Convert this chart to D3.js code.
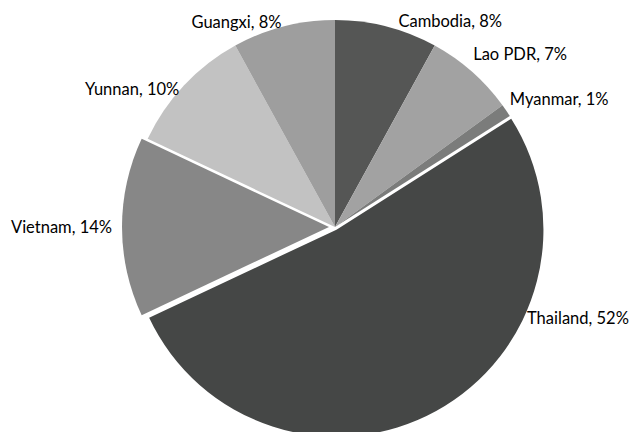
<!DOCTYPE html>
<html>
<head>
<meta charset="utf-8">
<script src="https://cdn.jsdelivr.net/npm/d3@7"></script>
<style>
  body { margin: 0; background: #ffffff; }
  svg { display: block; }
</style>
</head>
<body>
<div id="pie-board"></div>
<script>
// share of each area, clockwise from 12 o'clock
var countries = ['Cambodia', 'Lao PDR', 'Myanmar', 'Thailand', 'Vietnam', 'Yunnan', 'Guangxi'];
var shares = [8, 7, 1, 52, 14, 10, 8];

var width = 632;
var height = 432;
var cx = 335;
var cy = 227;
var radius = 207;

var colors = ['#555655', '#a2a2a2', '#7b7c7b', '#454746', '#878787', '#c2c2c2', '#9e9e9e'];

// exploded slices (pixels pushed out along the slice middle)
var explode = {'Thailand': 3, 'Vietnam': 6};

// small hand nudges for the labels, like the dragged labels in the original
var labelNudge = {
  'Cambodia': [10, 2],
  'Lao PDR': [-4, -12],
  'Myanmar': [-3, -7],
  'Thailand': [87, -100],
  'Vietnam': [-2, 0],
  'Yunnan': [1, 9],
  'Guangxi': [0, 3]
};

var data = countries.map(function(c, i){ return {name: c, value: shares[i], color: colors[i]}; });

var pie = d3.pie().sort(null).value(function(d){ return d.value; });
var arc = d3.arc().innerRadius(0).outerRadius(radius);

var svg = d3.select('#pie-board').append('svg')
            .attr('width', width)
            .attr('height', height);

var g = svg.append('g').attr('transform', 'translate(' + cx + ',' + cy + ')');

function midAngle(d){ return (d.startAngle + d.endAngle) / 2; }

function shift(d){
  var e = explode[d.data.name] || 0;
  var a = midAngle(d);
  return [Math.sin(a) * e, -Math.cos(a) * e];
}

var arcs = pie(data);

g.selectAll('path')
  .data(arcs)
  .enter()
  .append('path')
  .attr('d', arc)
  .attr('transform', function(d){ var s = shift(d); return 'translate(' + s[0] + ',' + s[1] + ')'; })
  .style('fill', function(d){ return d.data.color; });

g.selectAll('text')
  .data(arcs)
  .enter()
  .append('text')
  .attr('x', function(d){
    var s = shift(d);
    return s[0] + Math.sin(midAngle(d)) * (radius + 8) + labelNudge[d.data.name][0];
  })
  .attr('y', function(d){
    var s = shift(d);
    return s[1] - Math.cos(midAngle(d)) * (radius + 8) + labelNudge[d.data.name][1];
  })
  .attr('dy', '0.35em')
  .attr('text-anchor', function(d){ return midAngle(d) < Math.PI ? 'start' : 'end'; })
  .style('font-family', 'Lato, sans-serif')
  .style('font-size', '16.5px')
  .style('fill', '#000000')
  .text(function(d){ return d.data.name + ', ' + d.data.value + '%'; });
</script>
</body>
</html>
